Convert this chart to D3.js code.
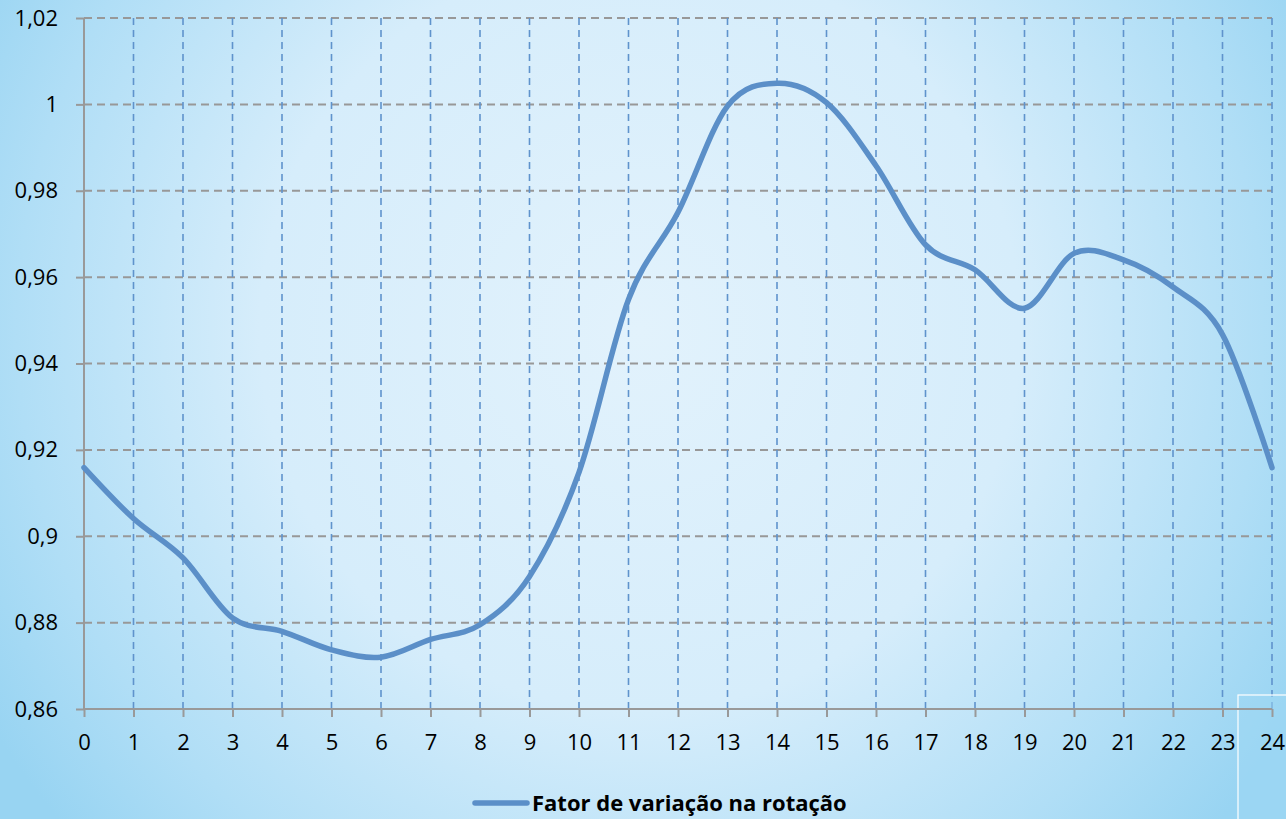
<!DOCTYPE html>
<html><head><meta charset="utf-8">
<script src="https://cdn.jsdelivr.net/npm/d3@7"></script>
<style>html,body{margin:0;padding:0;overflow:hidden;}svg{display:block;}</style>
</head><body>
<svg id="chart" width="1286" height="819"></svg>
<script>
const hours = [0,1,2,3,4,5,6,7,8,9,10,11,12,13,14,15,16,17,18,19,20,21,22,23,24];
const values = [0.9159,0.9041,0.8950,0.8811,0.8780,0.8737,0.8720,0.8761,0.8795,0.8907,0.9148,0.9548,0.9750,0.9996,1.0049,1.0004,0.9858,0.9675,0.9617,0.9528,0.9655,0.9640,0.9577,0.9467,0.9159];
const yTicks = [0.86,0.88,0.90,0.92,0.94,0.96,0.98,1.00,1.02];
const seriesName = "Fator de variação na rotação";

const W = 1286, H = 819;
const svg = d3.select("#chart");
const defs = svg.append("defs");
const rg = defs.append("radialGradient").attr("id","bg")
  .attr("gradientUnits","userSpaceOnUse").attr("cx",640).attr("cy",330).attr("r",760);
rg.append("stop").attr("offset","0%").attr("stop-color","#e2f2fc");
rg.append("stop").attr("offset","50%").attr("stop-color","#d6edfb");
rg.append("stop").attr("offset","82%").attr("stop-color","#b0def6");
rg.append("stop").attr("offset","100%").attr("stop-color","#98d4f2");
svg.append("rect").attr("width",W).attr("height",H).attr("fill","url(#bg)");

const x = d3.scaleLinear().domain([0,24]).range([84,1272]);
const y = d3.scaleLinear().domain([0.86,1.02]).range([709,18]);
const fmt = d => (Math.round(d*100)/100).toString().replace(".",",");

// horizontal gridlines
svg.append("g").selectAll("line").data(yTicks.slice(1)).join("line")
  .attr("x1",x(0)).attr("x2",x(24)).attr("y1",d=>y(d)).attr("y2",d=>y(d))
  .attr("stroke","#989898").attr("stroke-width",2).attr("stroke-dasharray","8,5");
// vertical gridlines
svg.append("g").selectAll("line").data(hours.slice(1)).join("line")
  .attr("x1",d=>x(d)).attr("x2",d=>x(d)).attr("y1",y(1.02)).attr("y2",y(0.86))
  .attr("stroke","#5f93cc").attr("stroke-width",1.6).attr("stroke-dasharray","7,5");

// axes
const yAxis = svg.append("g").attr("transform",`translate(${x(0)},0)`)
  .call(d3.axisLeft(y).tickValues(yTicks).tickFormat(fmt).tickSize(8).tickPadding(18));
const xAxis = svg.append("g").attr("transform",`translate(0,${y(0.86)})`)
  .call(d3.axisBottom(x).tickValues(hours).tickFormat(d=>d).tickSize(8).tickPadding(17));
[yAxis,xAxis].forEach(g=>{
  g.select(".domain").attr("stroke","#999").attr("stroke-width",2);
  g.selectAll(".tick line").attr("stroke","#999").attr("stroke-width",2);
  g.selectAll(".tick text").attr("fill","#000").style("font-family","'Open Sans'").style("font-size","22px");
});
yAxis.select(".domain").attr("d",`M0,${y(1.02)}V${y(0.86)}`);
xAxis.select(".domain").attr("d",`M${x(0)},0H${x(24)}`);

// series line
const line = d3.line().x((d,i)=>x(hours[i])).y(d=>y(d)).curve(d3.curveCardinal.tension(0));
svg.append("path").datum(values).attr("d",line)
  .attr("fill","none").attr("stroke","#5b8fc8").attr("stroke-width",5.5).attr("stroke-linecap","round");

// legend
const lg = svg.append("g");
lg.append("line").attr("x1",475).attr("x2",527).attr("y1",803).attr("y2",803)
  .attr("stroke","#5b8fc8").attr("stroke-width",5.5).attr("stroke-linecap","round");
lg.append("text").attr("x",532).attr("y",811).text(seriesName)
  .style("font-family","'Open Sans'").style("font-weight","bold").style("font-size","22px").attr("fill","#000");

// stray frame in the bottom right corner
svg.append("rect").attr("x",1238).attr("y",695).attr("width",60).attr("height",140)
  .attr("fill","#9dd7f3").attr("fill-opacity",0.5).attr("stroke","#ffffff").attr("stroke-width",1.2);
svg.node().appendChild(xAxis.node());
</script>
</body></html>
